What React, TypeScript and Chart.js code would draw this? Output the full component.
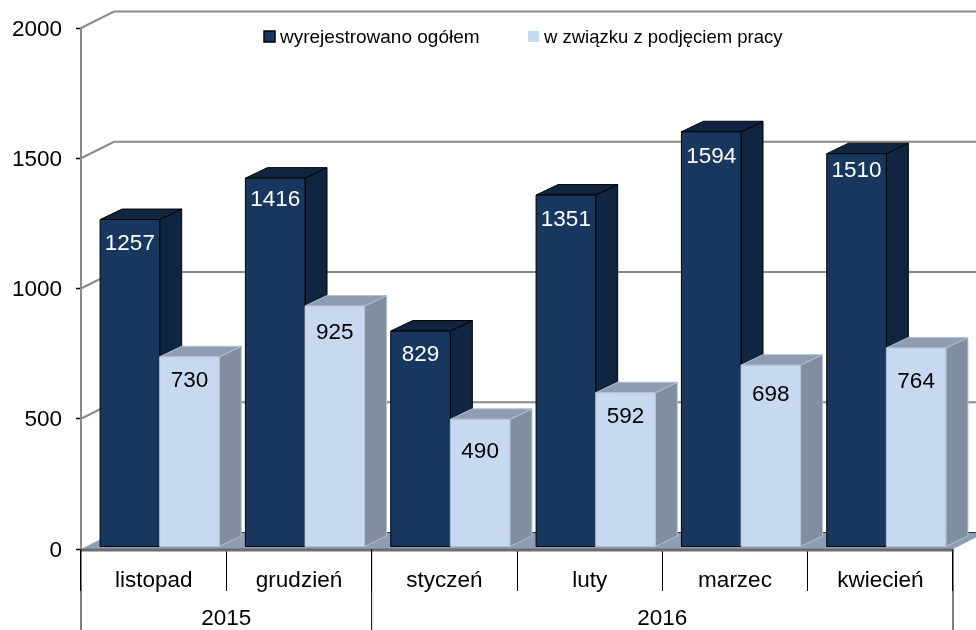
import React, { useEffect, useRef } from "react";
import { Chart, registerables } from "chart.js";

Chart.register(...registerables);

const months = ["listopad", "grudzień", "styczeń", "luty", "marzec", "kwiecień"];
const years = ["2015", "2016"];
const yearSpans = [2, 4];
const totalDeregistered = [1257, 1416, 829, 1351, 1594, 1510];
const tookJob = [730, 925, 490, 592, 698, 764];
const seriesNames = ["wyrejestrowano ogółem", "w związku z podjęciem pracy"];
const FONT = '"Liberation Sans", Arial, sans-serif';

const labelNudge = [
  [0, -2, 0, 1, 1, -7],
  [0, 3, 8, 0, 6, 10],
];
const styles = [
  { front: "#17375e", top: "#10253f", side: "#10253f", edge: "#000000", text: "#ffffff" },
  { front: "#c6d9f1", top: "#8e9db3", side: "#808e9f", edge: "#b4c0d0", text: "#000000" },
];
const legendSpots = [
  { box: 264, text: 280, size: 19 },
  { box: 528, text: 544, size: 18.5 },
];

function poly(ctx: CanvasRenderingContext2D, pts: number[][], fill: string, stroke?: string) {
  ctx.beginPath();
  pts.forEach((p, i) => (i ? ctx.lineTo(p[0], p[1]) : ctx.moveTo(p[0], p[1])));
  ctx.closePath();
  ctx.fillStyle = fill;
  ctx.fill();
  if (stroke) {
    ctx.lineWidth = 1;
    ctx.strokeStyle = stroke;
    ctx.stroke();
  }
}

const threeD = {
  id: "threeD",
  beforeDatasetsDraw(chart: any) {
    const { ctx, scales, chartArea } = chart;
    const W = chart.width;
    const wallDx = 33;
    const wallDy = -16.5;
    const shift = 6;
    ctx.save();
    // floor
    const y0 = scales.y.getPixelForValue(0);
    poly(
      ctx,
      [
        [chartArea.left, y0],
        [chartArea.left + wallDx, y0 + wallDy],
        [chartArea.right + wallDx, y0 + wallDy],
        [chartArea.right, y0],
      ],
      "#8e9db3"
    );
    // walls
    ctx.lineWidth = 2;
    scales.y.ticks.forEach((t: any) => {
      const y = scales.y.getPixelForValue(t.value);
      if (t.value === 0) {
        ctx.strokeStyle = "#333333";
        ctx.lineWidth = 1;
        ctx.beginPath();
        ctx.moveTo(chartArea.left + wallDx, y + wallDy);
        ctx.lineTo(W, y + wallDy);
        ctx.stroke();
        ctx.lineWidth = 2;
        return;
      }
      ctx.strokeStyle = "#8a8a8a";
      ctx.beginPath();
      ctx.moveTo(chartArea.left, y);
      ctx.lineTo(chartArea.left + wallDx, y + wallDy);
      ctx.lineTo(W, y + wallDy);
      ctx.stroke();
    });
    // bars
    const dx = 22;
    const dy = -10.5;
    const metas = chart.data.datasets.map((_: any, i: number) => chart.getDatasetMeta(i));
    months.forEach((_, c) => {
      metas.forEach((meta: any, s: number) => {
        const el = meta.data[c];
        const st = styles[s];
        const l = el.x - el.width / 2 + shift;
        const r = el.x + el.width / 2 + shift;
        const t = el.y - 2;
        const b = el.base - 2;
        poly(ctx, [[r, t], [r + dx, t + dy], [r + dx, b + dy], [r, b]], st.side, st.edge);
        poly(ctx, [[l, t], [l + dx, t + dy], [r + dx, t + dy], [r, t]], st.top, st.edge);
        poly(ctx, [[l, t], [r, t], [r, b], [l, b]], st.front, st.edge);
      });
    });
    // front floor edge
    ctx.strokeStyle = "#6e6e6e";
    ctx.lineWidth = 3;
    ctx.beginPath();
    ctx.moveTo(chartArea.left, y0 + 1);
    ctx.lineTo(chartArea.right, y0 + 1);
    ctx.stroke();
    // value labels
    ctx.font = `22.5px ${FONT}`;
    ctx.textAlign = "center";
    ctx.textBaseline = "middle";
    metas.forEach((meta: any, s: number) => {
      meta.data.forEach((el: any, c: number) => {
        ctx.fillStyle = styles[s].text;
        ctx.fillText(String(chart.data.datasets[s].data[c]), el.x + shift, el.y + 22 + labelNudge[s][c]);
      });
    });
    // year level of the category axis
    let start = 0;
    ctx.strokeStyle = "#000000";
    ctx.lineWidth = 1;
    ctx.fillStyle = "#000000";
    const cat = (chartArea.right - chartArea.left) / months.length;
    const edge = (i: number) => chartArea.left + cat * i;
    const vline = (x: number) => {
      ctx.beginPath();
      ctx.moveTo(x, y0);
      ctx.lineTo(x, chart.height);
      ctx.stroke();
    };
    vline(edge(0));
    years.forEach((yr, i) => {
      const end = start + yearSpans[i];
      vline(edge(end));
      ctx.fillText(yr, (edge(start) + edge(end)) / 2, 619);
      start = end;
    });
    // legend
    ctx.textAlign = "left";
    seriesNames.forEach((name, i) => {
      const st = styles[i];
      const spot = legendSpots[i];
      ctx.font = `${spot.size}px ${FONT}`;
      ctx.fillStyle = st.front;
      ctx.fillRect(spot.box, 31, 11, 11);
      if (i === 0) {
        ctx.strokeStyle = "#000000";
        ctx.lineWidth = 1.5;
        ctx.strokeRect(spot.box, 31, 11, 11);
      }
      ctx.fillStyle = "#000000";
      ctx.fillText(name, spot.text, 38);
    });
    ctx.restore();
    return false;
  },
};

export default function App() {
  const ref = useRef<HTMLCanvasElement>(null);
  useEffect(() => {
    const chart = new Chart(ref.current as HTMLCanvasElement, {
      type: "bar",
      data: {
        labels: months,
        datasets: [
          { label: seriesNames[0], data: totalDeregistered, backgroundColor: styles[0].front },
          { label: seriesNames[1], data: tookJob, backgroundColor: styles[1].front },
        ],
      },
      options: {
        responsive: false,
        animation: false,
        events: [],
        layout: { padding: { top: 28, right: 23, left: 0, bottom: 0 } },
        categoryPercentage: 0.82,
        barPercentage: 1,
        plugins: { legend: { display: false }, tooltip: { enabled: false }, title: { display: false } },
        scales: {
          x: {
            afterFit: (s: any) => {
              s.height = 81;
            },
            grid: {
              offset: true,
              drawOnChartArea: false,
              tickLength: 42,
              tickWidth: 1,
              tickColor: "#000000",
            },
            border: { display: false },
            ticks: {
              color: "#000000",
              padding: -24,
              maxRotation: 0,
              font: { size: 22.5, family: FONT },
            },
          },
          y: {
            min: 0,
            max: 2000,
            afterFit: (s: any) => {
              s.width = 81;
            },
            grid: { drawOnChartArea: false, tickLength: 5, tickWidth: 1.5, tickColor: "#000000" },
            border: { color: "#8a8a8a", width: 2 },
            ticks: {
              stepSize: 500,
              color: "#000000",
              padding: 14,
              labelOffset: 1.5,
              font: { size: 22.5, family: FONT },
              callback: (v: any) => String(v),
            },
          },
        },
      } as any,
      plugins: [threeD as any],
    });
    return () => chart.destroy();
  }, []);
  return (
    <canvas
      ref={ref}
      width={976}
      height={630}
      style={{ position: "absolute", left: 0, top: 0, width: 976, height: 630, background: "#ffffff" }}
    />
  );
}
